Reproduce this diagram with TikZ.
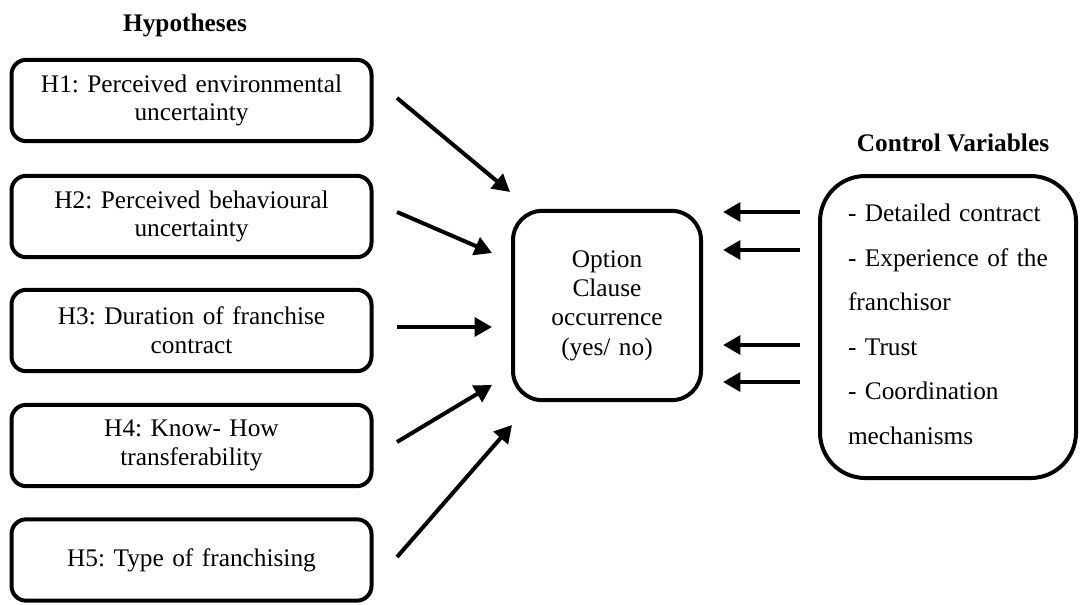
\documentclass[tikz,border=0pt]{standalone}
\usepackage{fontspec}
\setmainfont{Liberation Serif}
\usetikzlibrary{arrows.meta}
\frenchspacing
\begin{document}
\begin{tikzpicture}[x=0.75pt,y=-0.75pt,
  hyp/.style={draw, line width=3pt, rounded corners=11pt, minimum width=270pt,
    minimum height=61pt, text width=250pt, align=center, inner sep=0pt,
    font=\fontsize{19}{21.5}\selectfont},
  outcome/.style={draw, line width=3pt, rounded corners=22pt, minimum width=141pt,
    minimum height=142pt, text width=130pt, align=center, inner sep=0pt,
    font=\fontsize{19}{22}\selectfont},
  ctrl/.style={draw, line width=3pt, rounded corners=34pt, minimum height=226.5pt,
    text width=150pt, align=left, inner xsep=21pt, inner ysep=0pt,
    font=\fontsize{19}{33.4}\selectfont},
  heading/.style={font=\fontsize{19}{22}\selectfont\bfseries, inner sep=0pt},
  link/.style={line width=3pt, -{Triangle[length=13pt,width=14pt]}}
]
\useasboundingbox (0,0) rectangle (1080,604);

\node[heading] (th) at (185,25) {Hypotheses};
\node[heading] (tc) at (953,143) {Control Variables};

\node[hyp] (h1) at (191.5,100.5) {H1: Perceived environmental\\ uncertainty};
\node[hyp] (h2) at (191.5,216.5) {H2: Perceived behavioural\\ uncertainty};
\node[hyp] (h3) at (191.5,330.5) {H3: Duration of franchise\\ contract};
\node[hyp] (h4) at (191.5,445.5) {H4: Know- How\\ transferability};
\node[hyp] (h5) at (191.5,560) {H5: Type of franchising};

\node[outcome] (oc) at (607,305.5) {Option\\ Clause\\ occurrence\\ (yes/ no)};

\node[ctrl] (cv) at (948,327) {- Detailed contract\\ - Experience of the\\ franchisor\\ - Trust\\ - Coordination\\ mechanisms\vspace{4pt}};

\coordinate (a1s) at (397,98);  \coordinate (a1e) at (510,192);
\coordinate (a2s) at (397,212); \coordinate (a2e) at (492,253);
\coordinate (a3s) at (397,327); \coordinate (a3e) at (492,327);
\coordinate (a4s) at (397,442); \coordinate (a4e) at (492,385);
\coordinate (a5s) at (397,557); \coordinate (a5e) at (512,425);

\coordinate (b1s) at (800,212); \coordinate (b1e) at (723,212);
\coordinate (b2s) at (800,250); \coordinate (b2e) at (723,250);
\coordinate (b3s) at (800,345); \coordinate (b3e) at (723,345);
\coordinate (b4s) at (800,382); \coordinate (b4e) at (723,382);

\draw[link] (a1s) -- (a1e);
\draw[link] (a2s) -- (a2e);
\draw[link] (a3s) -- (a3e);
\draw[link] (a4s) -- (a4e);
\draw[link] (a5s) -- (a5e);
\draw[link] (b1s) -- (b1e);
\draw[link] (b2s) -- (b2e);
\draw[link] (b3s) -- (b3e);
\draw[link] (b4s) -- (b4e);
\end{tikzpicture}
\end{document}
